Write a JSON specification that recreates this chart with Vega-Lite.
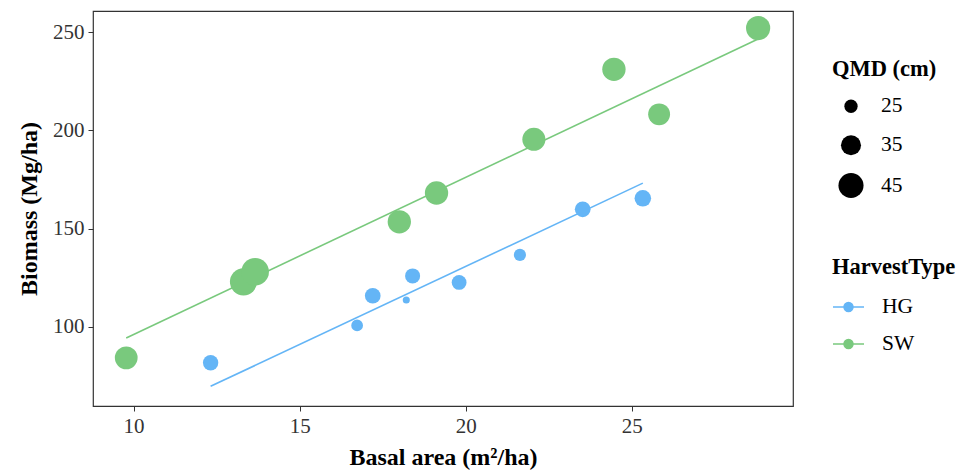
{
  "$schema": "https://vega.github.io/schema/vega-lite/v6.json",
  "width": 700,
  "height": 395,
  "autosize": {"type": "none"},
  "padding": {"left": 93, "top": 11, "right": 167, "bottom": 64},
  "background": "white",
  "config": {
    "font": "Liberation Serif",
    "view": {"stroke": "#333333", "strokeWidth": 1.2},
    "axis": {
      "grid": false,
      "domain": false,
      "tickColor": "#333333",
      "tickSize": 5,
      "labelFont": "Liberation Serif",
      "labelFontSize": 21,
      "labelColor": "#333333",
      "titleFont": "Liberation Serif",
      "titleFontSize": 24,
      "titleFontWeight": "bold",
      "titleColor": "black"
    },
    "legend": {
      "titleFont": "Liberation Serif",
      "titleFontSize": 22.5,
      "titleFontWeight": "bold",
      "titleColor": "black",
      "labelFont": "Liberation Serif",
      "labelFontSize": 21.5,
      "labelColor": "black"
    }
  },
  "datasets": {
    "points": [
      {"HarvestType": "HG", "BA": 12.32, "Biomass": 81.7, "QMD": 27.6},
      {"HarvestType": "HG", "BA": 16.73, "Biomass": 100.7, "QMD": 23.3},
      {"HarvestType": "HG", "BA": 17.2, "Biomass": 115.8, "QMD": 28.1},
      {"HarvestType": "HG", "BA": 18.21, "Biomass": 113.6, "QMD": 19.4},
      {"HarvestType": "HG", "BA": 18.4, "Biomass": 125.9, "QMD": 27.2},
      {"HarvestType": "HG", "BA": 19.8, "Biomass": 122.6, "QMD": 26.9},
      {"HarvestType": "HG", "BA": 21.63, "Biomass": 136.6, "QMD": 23.7},
      {"HarvestType": "HG", "BA": 23.52, "Biomass": 159.8, "QMD": 28.1},
      {"HarvestType": "HG", "BA": 25.33, "Biomass": 165.4, "QMD": 29.3},
      {"HarvestType": "SW", "BA": 9.78, "Biomass": 84.2, "QMD": 40.1},
      {"HarvestType": "SW", "BA": 13.31, "Biomass": 122.9, "QMD": 49.9},
      {"HarvestType": "SW", "BA": 13.66, "Biomass": 128.0, "QMD": 51.0},
      {"HarvestType": "SW", "BA": 18.0, "Biomass": 153.4, "QMD": 41.2},
      {"HarvestType": "SW", "BA": 19.12, "Biomass": 168.1, "QMD": 41.2},
      {"HarvestType": "SW", "BA": 22.05, "Biomass": 195.4, "QMD": 40.7},
      {"HarvestType": "SW", "BA": 24.46, "Biomass": 231.0, "QMD": 41.2},
      {"HarvestType": "SW", "BA": 25.82, "Biomass": 208.1, "QMD": 38.4},
      {"HarvestType": "SW", "BA": 28.8, "Biomass": 252.0, "QMD": 43.1}
    ],
    "fits": [
      {"HarvestType": "HG", "BA": 12.32, "Biomass": 69.7},
      {"HarvestType": "HG", "BA": 25.33, "Biomass": 173.1},
      {"HarvestType": "SW", "BA": 9.78, "Biomass": 94.3},
      {"HarvestType": "SW", "BA": 28.8, "Biomass": 246.5}
    ]
  },
  "layer": [
    {
      "data": {"name": "fits"},
      "mark": {"type": "line", "strokeWidth": 1.6},
      "encoding": {
        "x": {"field": "BA", "type": "quantitative"},
        "y": {"field": "Biomass", "type": "quantitative"},
        "color": {"field": "HarvestType", "type": "nominal"},
        "detail": {"field": "HarvestType"}
      }
    },
    {
      "data": {"name": "points"},
      "mark": {"type": "circle", "opacity": 1},
      "encoding": {
        "x": {
          "field": "BA", "type": "quantitative",
          "scale": {"domain": [8.78, 29.85], "nice": false, "zero": false},
          "axis": {"values": [10, 15, 20, 25], "title": "Basal area (m²/ha)", "labelPadding": 4, "titlePadding": 9}
        },
        "y": {
          "field": "Biomass", "type": "quantitative",
          "scale": {"domain": [59.7, 260.7], "nice": false, "zero": false},
          "axis": {"values": [100, 150, 200, 250], "title": "Biomass (Mg/ha)", "labelPadding": 4, "titlePadding": 11}
        },
        "color": {
          "field": "HarvestType", "type": "nominal",
          "scale": {"domain": ["HG", "SW"], "range": ["#64B5F6", "#79C97D"]},
          "legend": {
            "title": "HarvestType",
            "orient": "none",
            "legendX": 739,
            "legendY": 245,
            "titlePadding": 12,
            "symbolType": "M-1,0L1,0M-0.29,0A0.29,0.29,0,1,0,0.29,0A0.29,0.29,0,1,0,-0.29,0Z",
            "symbolSize": 961,
            "symbolStrokeWidth": 1.5,
            "labelOffset": 17,
            "rowPadding": 10,
            "encode": {
              "symbols": {
                "update": {
                  "fill": {"scale": "color", "field": "value"},
                  "stroke": {"scale": "color", "field": "value"},
                  "strokeWidth": {"value": 1.5},
                  "opacity": {"value": 1}
                }
              }
            }
          }
        },
        "size": {
          "field": "QMD", "type": "quantitative",
          "scale": {"type": "linear", "zero": false, "domain": [19, 52], "range": [41, 788]},
          "legend": {
            "title": "QMD (cm)",
            "values": [25, 35, 45],
            "orient": "none",
            "legendX": 739,
            "legendY": 47,
            "titlePadding": 15,
            "symbolType": "circle",
            "symbolFillColor": "black",
            "symbolStrokeColor": "black",
            "symbolStrokeWidth": 0,
            "symbolOpacity": 1,
            "symbolOffset": 6,
            "labelOffset": 17,
            "rowPadding": 16,
            "encode": {
              "symbols": {
                "update": {
                  "fill": {"value": "black"},
                  "opacity": {"value": 1}
                }
              }
            }
          }
        }
      }
    }
  ]
}
